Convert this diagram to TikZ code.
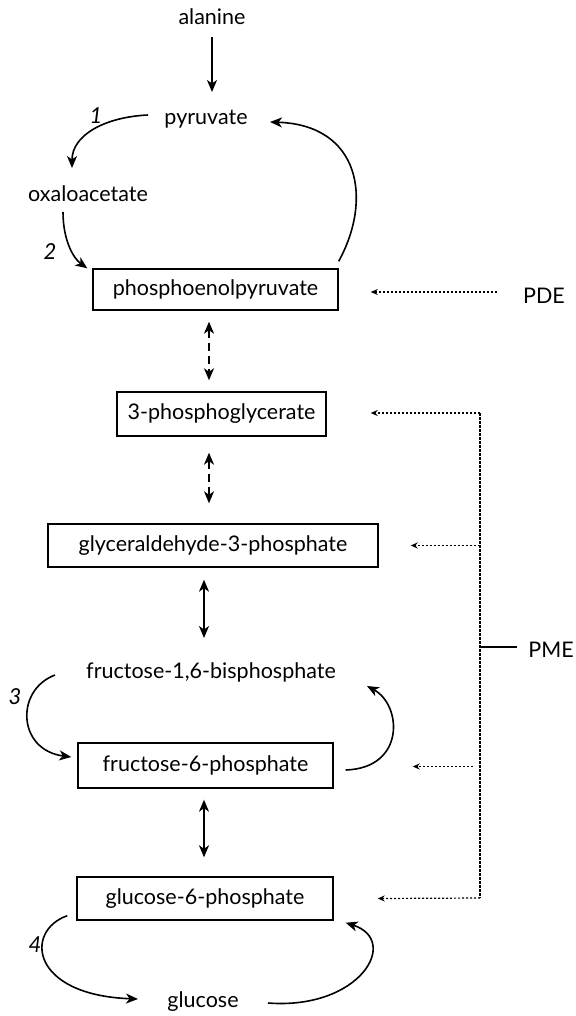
\documentclass[tikz,border=0pt]{standalone}
\usepackage{fontspec}
\setmainfont{Lato}
\usetikzlibrary{arrows.meta,calc}
\begin{document}
\begin{tikzpicture}[x=1pt,y=-1pt,
  txt/.style={font=\fontsize{21.5}{25}\selectfont, inner sep=0pt},
  box/.style={draw, line width=1.4pt, txt},
  num/.style={font=\fontsize{22}{25}\selectfont\itshape, inner sep=0pt},
  arr/.style={line width=1.6pt, -{Stealth[length=12pt,width=10pt,inset=3.5pt]}},
  darr/.style={line width=1.6pt, {Stealth[length=12pt,width=10pt,inset=3.5pt]}-{Stealth[length=12pt,width=10pt,inset=3.5pt]}},
  dasharr/.style={darr, dash pattern=on 8pt off 5pt},
  dotarr/.style={line width=1.2pt, dash pattern=on 2pt off 2pt, -{Stealth[length=7pt,width=6pt]}},
  dotline/.style={line width=1.5pt, dash pattern=on 2.5pt off 1.5pt}]
\useasboundingbox (0,0) rectangle (575,1016);

% text nodes
\node[txt, anchor=base] (ala) at (212,25) {alanine};
\node[txt, anchor=base] (pyr) at (206,125) {pyruvate};
\node[txt, anchor=base] (oxa) at (88,202) {oxaloacetate};
\node[txt, anchor=base] (fbp) at (211,678) {fructose-1,6-bisphosphate};
\node[txt, anchor=base] (glc) at (203,1007) {glucose};
\node[txt, anchor=base] (pde) at (544,303) {PDE};
\node[txt, anchor=base] (pme) at (551,657) {PME};

% boxes
\node[box, minimum width=245pt, minimum height=41pt] (pep) at (215.5,289.5) {phosphoenolpyruvate};
\node[box, minimum width=209pt, minimum height=44pt] (pg3) at (221.5,414) {3-phosphoglycerate};
\node[box, minimum width=330pt, minimum height=43pt] (g3p) at (213,545.5) {glyceraldehyde-3-phosphate};
\node[box, minimum width=255pt, minimum height=45pt] (f6p) at (205.5,765.5) {fructose-6-phosphate};
\node[box, minimum width=256pt, minimum height=43pt] (g6p) at (205,898.5) {glucose-6-phosphate};

% enzyme numbers
\node[num] (n1) at (96,116) {1};
\node[num] (n2) at (50,252) {2};
\node[num] (n3) at (15,697) {3};
\node[num] (n4) at (35,945) {4};

% straight arrows
\draw[arr] ($(ala.base)+(0,12)$) -- ($(ala.base |- pyr.base)+(0,-33)$);
\draw[dasharr] ($(pep.south)+(-6.5,11)$) -- ($(pg3.north)+(-12.5,-11)$);
\draw[dasharr] ($(pg3.south)+(-12.5,16)$) -- ($(g3p.north)+(-4,-20)$);
\draw[darr] ($(g3p.south)+(-9,12)$) -- ($(fbp.base)+(-7,-40)$);
\draw[darr] ($(f6p.south)+(-1.5,11)$) -- ($(g6p.north)+(-1,-19)$);

% curved arrows
\draw[arr] ($(pyr.base)+(-58,-10)$) .. controls +(-43,2) and +(0,-33) .. ($(oxa.base)+(-16,-34)$);
\draw[arr] ($(oxa.base)+(-25,10)$) .. controls +(0,28) and +(-14,-10) .. ($(pep.north west)+(-5,0)$);
\draw[arr] ($(pep.north east)+(0,-7)$) .. controls +(34,-62) and +(90,3) .. ($(pyr.base)+(64,-3)$);
\draw[arr] ($(fbp.base)+(-156,-3)$) .. controls +(-40,15) and +(-54,-7) .. ($(f6p.west)+(-6,-8.5)$);
\draw[arr] ($(f6p.east)+(12,4.5)$) .. controls +(60,-2) and +(35,19) .. ($(fbp.base)+(156,8)$);
\draw[arr] ($(g6p.south west)+(-9,-5)$) .. controls +(-43,15) and +(-108,-4) .. ($(glc.base)+(-65,-8)$);
\draw[arr] ($(glc.base)+(65,-4)$) .. controls +(92,7) and +(55,18) .. ($(g6p.south east)+(12,2)$);

% regulators
\draw[dotarr] ($(pde.base)+(-47,-11)$) -- ($(pep.east)+(32,2.5)$);
\coordinate (pmeT) at (480,413);
\coordinate (pmeB) at (480,898);
\coordinate (pmeM) at (480,647);
\draw[dotline] (pmeT) -- (pmeB);
\draw[line width=1.3pt] (pmeM) -- ($(pme.base)+(-34,-10)$);
\draw[dotarr] (pmeT) -- ($(pg3.east)+(44,-1)$);
\draw[dotarr] (pmeT |- g3p.east) -- ($(g3p.east)+(32,0)$);
\draw[dotarr] ($(pmeT |- f6p.east)+(-7,1)$) -- ($(f6p.east)+(79,1)$);
\draw[dotarr] (pmeB) -- ($(g6p.east)+(44,0)$);
\end{tikzpicture}
\end{document}
